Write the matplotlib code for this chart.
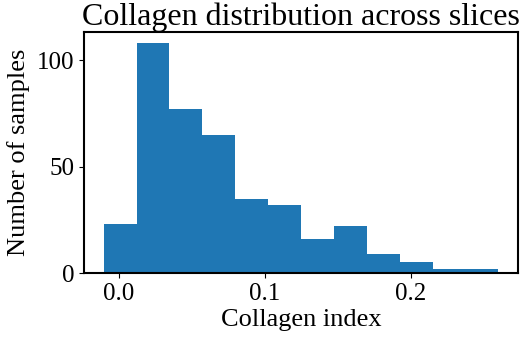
import numpy as np
import matplotlib
matplotlib.use("Agg")
import matplotlib.pyplot as plt

# histogram: 12 equal bins
bin_lo = -0.0103
bin_hi = 0.2600
counts = [23, 108, 77, 65, 35, 32, 16, 22, 9, 5, 2, 2]

title = "Collagen distribution across slices"
x_label = "Collagen index"
y_label = "Number of samples"

plt.rcParams['font.family'] = ['Liberation Serif', 'DejaVu Serif']

edges = np.linspace(bin_lo, bin_hi, len(counts) + 1)
centers = (edges[:-1] + edges[1:]) / 2

fig = plt.figure(figsize=(5.23, 3.39), dpi=100)
ax = fig.add_axes([84 / 523, 66 / 339, 434 / 523, 241 / 339])
ax.hist(centers, bins=edges, weights=counts, color='#1f77b4')

ax.set_title(title, fontsize=23, pad=5)
ax.set_xlabel(x_label, fontsize=19, labelpad=3)
ax.set_ylabel(y_label, fontsize=19, labelpad=5)
ax.tick_params(labelsize=18)
ax.set_xticks([0.0, 0.1, 0.2])
ax.set_yticks([0, 50, 100])
for s in ax.spines.values():
    s.set_linewidth(1.5)

fig.savefig("out.png", dpi=100)
